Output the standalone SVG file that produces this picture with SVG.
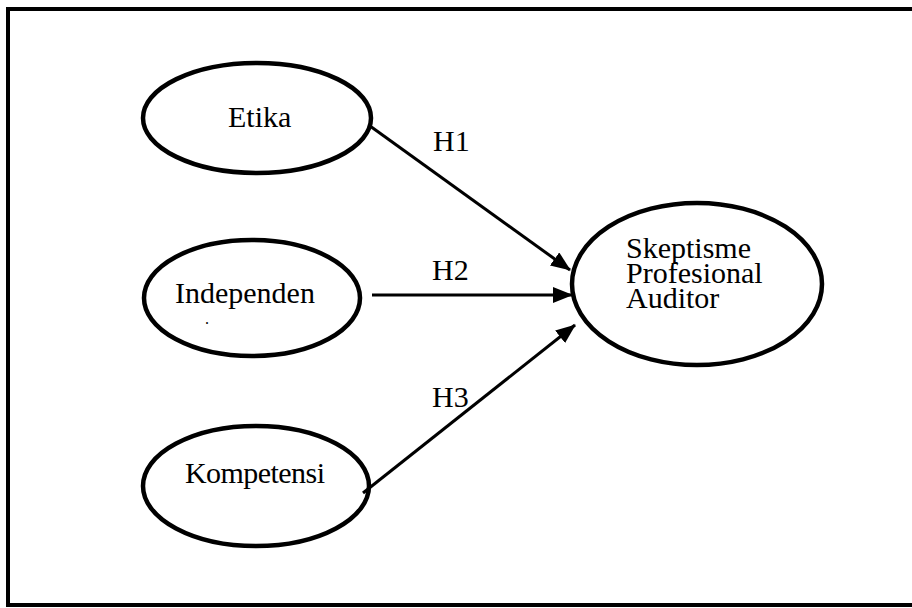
<svg xmlns="http://www.w3.org/2000/svg" width="912" height="608" viewBox="0 0 912 608">
<style>
.node ellipse{fill:#fff;stroke:#000;stroke-width:4.5}
text{font-family:"Liberation Serif","Times New Roman",serif;font-size:30px;fill:#000}
.conn line{stroke:#000;stroke-width:3}
</style>
<defs>
<marker id="arr" markerUnits="userSpaceOnUse" markerWidth="20" markerHeight="16" refX="19" refY="8" orient="auto">
<path d="M0,0 L20,8 L0,16 Z" fill="#000"/>
</marker>
</defs>
<rect x="8" y="9" width="920" height="596" fill="#fff" stroke="#000" stroke-width="4"/>
<g id="etika" class="node">
<ellipse cx="257" cy="118" rx="114" ry="55"/>
<text x="228" y="127">Etika</text>
</g>
<g id="independen" class="node">
<ellipse cx="252" cy="298" rx="108" ry="58"/>
<text x="175" y="303">Independen</text>
<text x="205" y="324" style="font-size:16px">.</text>
</g>
<g id="kompetensi" class="node">
<ellipse cx="256" cy="486" rx="113" ry="60"/>
<text x="185" y="483" textLength="140">Kompetensi</text>
</g>
<g id="skeptisme" class="node">
<ellipse cx="697" cy="284" rx="125" ry="81"/>
<text x="626" y="258">Skeptisme</text>
<text x="626" y="283">Profesional</text>
<text x="626" y="308">Auditor</text>
</g>
<g id="connectors" class="conn">
<line x1="370" y1="126" x2="570" y2="270" marker-end="url(#arr)"/>
<line x1="372" y1="295" x2="572" y2="295" marker-end="url(#arr)"/>
<line x1="363" y1="493" x2="575" y2="325" marker-end="url(#arr)"/>
<text x="433" y="151">H1</text>
<text x="432" y="280">H2</text>
<text x="432" y="407">H3</text>
</g>
</svg>
